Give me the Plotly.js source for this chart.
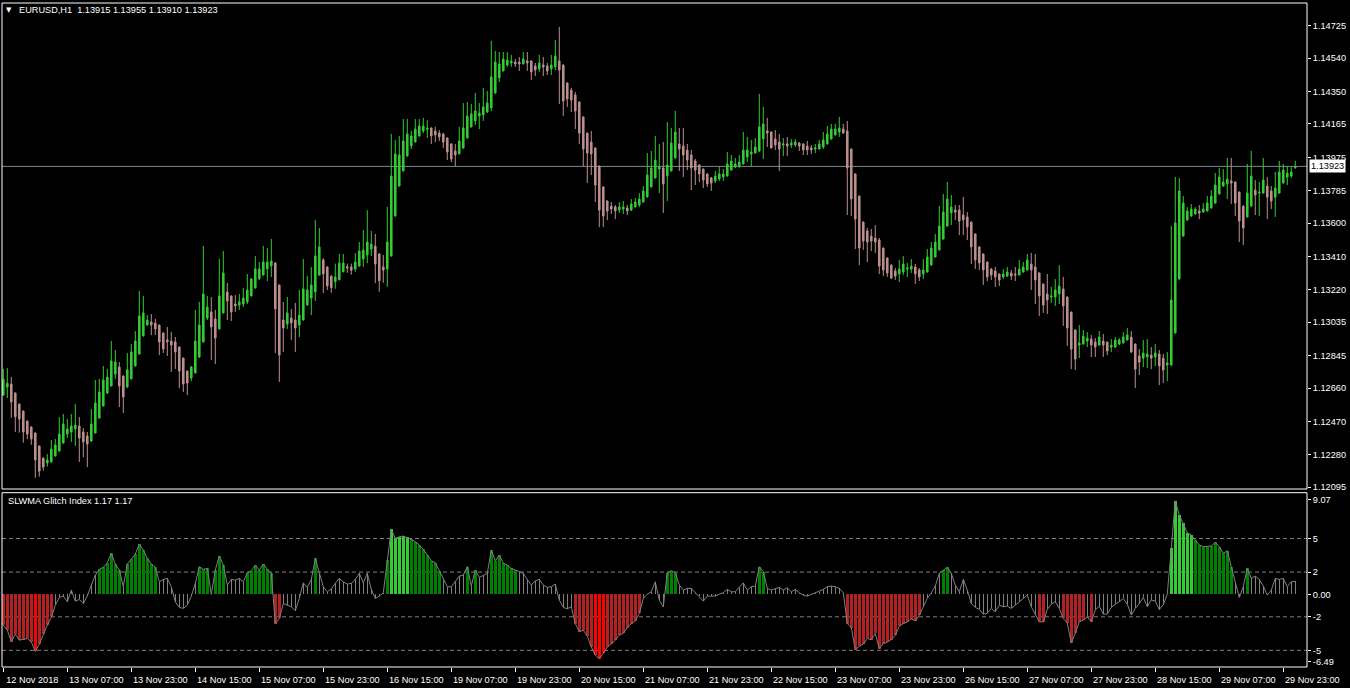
<!DOCTYPE html>
<html>
<head>
<meta charset="utf-8">
<script src="https://cdn.plot.ly/plotly-3.0.1.min.js"></script>
<style>
  html, body { margin: 0; padding: 0; background: #000; }
  #chart { width: 1350px; height: 688px; }
</style>
</head>
<body>
<div id="chart"></div>
<script>
// ---------------- DATA (EURUSD H1, 12 Nov 2018 15:00 -> 30 Nov 2018 02:00) ----------------
const symbolTitle = "EURUSD,H1\u00a0\u00a01.13915 1.13955 1.13910 1.13923";
const indicatorTitle = "SLWMA Glitch Index 1.17 1.17";
const lastPrice = 1.13923;

const openP = [
1.12620,1.12666,1.12683,1.12632,1.12569,1.12529,1.12472,1.12438,1.12404,1.12330,
1.12261,1.12233,1.12239,1.12273,1.12301,1.12347,1.12398,1.12410,1.12427,1.12444,
1.12410,1.12387,1.12358,1.12404,1.12489,1.12558,1.12632,1.12672,1.12740,1.12780,
1.12729,1.12666,1.12712,1.12786,1.12854,1.12957,1.13019,1.13037,1.13031,1.13019,
1.12974,1.12934,1.12928,1.12923,1.12894,1.12831,1.12757,1.12717,1.12746,1.12837,
1.12923,1.13059,1.13094,1.13054,1.12997,1.13088,1.13208,1.13185,1.13139,1.13133,
1.13139,1.13151,1.13185,1.13230,1.13282,1.13304,1.13339,1.13356,1.13373,1.13247,
1.13048,1.13025,1.13059,1.13048,1.13019,1.13048,1.13133,1.13173,1.13208,1.13304,
1.13390,1.13350,1.13298,1.13266,1.13277,1.13323,1.13351,1.13350,1.13338,1.13355,
1.13395,1.13418,1.13452,1.13469,1.13424,1.13350,1.13338,1.13412,1.13640,1.13811,
1.13897,1.13982,1.14039,1.14062,1.14096,1.14125,1.14134,1.14142,1.14125,1.14113,
1.14108,1.14085,1.14051,1.14011,1.13994,1.14028,1.14085,1.14148,1.14182,1.14210,
1.14216,1.14233,1.14256,1.14341,1.14427,1.14467,1.14501,1.14512,1.14518,1.14518,
1.14507,1.14524,1.14524,1.14495,1.14478,1.14501,1.14495,1.14478,1.14490,1.14524,
1.14501,1.14398,1.14358,1.14330,1.14290,1.14205,1.14113,1.14062,1.14028,1.13925,
1.13806,1.13726,1.13697,1.13692,1.13674,1.13680,1.13686,1.13674,1.13692,1.13703,
1.13720,1.13749,1.13806,1.13857,1.13908,1.13914,1.13868,1.13897,1.13971,1.14051,
1.14039,1.14016,1.13988,1.13954,1.13931,1.13908,1.13880,1.13857,1.13840,1.13851,
1.13863,1.13868,1.13902,1.13920,1.13925,1.13937,1.13977,1.13994,1.13999,1.14011,
1.14079,1.14125,1.14119,1.14079,1.14062,1.14045,1.14051,1.14045,1.14045,1.14056,
1.14051,1.14039,1.14028,1.14022,1.14022,1.14034,1.14051,1.14079,1.14102,1.14119,
1.14136,1.14125,1.14022,1.13880,1.13754,1.13606,1.13555,1.13526,1.13515,1.13504,
1.13458,1.13401,1.13361,1.13327,1.13310,1.13321,1.13338,1.13338,1.13350,1.13333,
1.13310,1.13321,1.13361,1.13407,1.13447,1.13509,1.13583,1.13658,1.13675,1.13675,
1.13646,1.13635,1.13606,1.13538,1.13464,1.13424,1.13378,1.13338,1.13327,1.13310,
1.13293,1.13298,1.13316,1.13310,1.13304,1.13321,1.13333,1.13367,1.13350,1.13316,
1.13253,1.13196,1.13179,1.13179,1.13196,1.13224,1.13179,1.13093,1.12991,1.12905,
1.12911,1.12928,1.12939,1.12922,1.12905,1.12928,1.12922,1.12894,1.12894,1.12911,
1.12917,1.12934,1.12951,1.12911,1.12843,1.12830,1.12837,1.12848,1.12837,1.12854,
1.12830,1.12791,1.12791,1.12974,1.13281,1.13526,1.13617,1.13640,1.13652,1.13669,
1.13663,1.13669,1.13686,1.13714,1.13766,1.13811,1.13823,1.13840,1.13834,1.13777,
1.13697,1.13635,1.13697,1.13788,1.13771,1.13771,1.13811,1.13783,1.13748,1.13771,
1.13828,1.13862,1.13868,1.13915
];
const highP = [
1.12769,1.12774,1.12723,1.12635,1.12572,1.12532,1.12476,1.12442,1.12408,1.12333,
1.12264,1.12284,1.12364,1.12370,1.12495,1.12512,1.12484,1.12512,1.12569,1.12495,
1.12432,1.12410,1.12541,1.12706,1.12712,1.12786,1.12769,1.12928,1.12877,1.12808,
1.12732,1.12860,1.12911,1.12985,1.13213,1.13185,1.13076,1.13082,1.13054,1.13022,
1.12977,1.13008,1.12980,1.12951,1.12897,1.12834,1.12760,1.12786,1.13105,1.13151,
1.13470,1.13185,1.13179,1.13105,1.13396,1.13441,1.13259,1.13188,1.13190,1.13196,
1.13230,1.13310,1.13285,1.13413,1.13378,1.13470,1.13458,1.13510,1.13376,1.13250,
1.13151,1.13179,1.13111,1.13145,1.13219,1.13396,1.13299,1.13350,1.13618,1.13572,
1.13401,1.13353,1.13301,1.13369,1.13424,1.13424,1.13369,1.13369,1.13429,1.13492,
1.13560,1.13674,1.13555,1.13538,1.13427,1.13418,1.13692,1.14108,1.14073,1.14096,
1.14193,1.14193,1.14125,1.14193,1.14193,1.14199,1.14187,1.14145,1.14148,1.14130,
1.14114,1.14088,1.14054,1.14051,1.14148,1.14284,1.14290,1.14279,1.14341,1.14284,
1.14370,1.14353,1.14638,1.14581,1.14575,1.14575,1.14575,1.14558,1.14535,1.14546,
1.14575,1.14575,1.14527,1.14512,1.14558,1.14546,1.14512,1.14558,1.14643,1.14718,
1.14504,1.14401,1.14370,1.14347,1.14293,1.14208,1.14116,1.14125,1.14031,1.13928,
1.13809,1.13729,1.13720,1.13703,1.13720,1.13726,1.13703,1.13737,1.13743,1.13771,
1.13811,1.13999,1.14011,1.14096,1.14051,1.14062,1.14176,1.14142,1.14239,1.14142,
1.14142,1.14051,1.14016,1.13965,1.13934,1.13911,1.13883,1.13863,1.13897,1.13920,
1.13908,1.14005,1.13988,1.13971,1.13988,1.14119,1.14091,1.14073,1.14085,1.14336,
1.14262,1.14199,1.14122,1.14130,1.14108,1.14085,1.14091,1.14079,1.14079,1.14062,
1.14056,1.14068,1.14045,1.14051,1.14074,1.14119,1.14153,1.14165,1.14165,1.14205,
1.14165,1.14182,1.14025,1.13883,1.13757,1.13609,1.13572,1.13566,1.13589,1.13515,
1.13461,1.13404,1.13364,1.13344,1.13390,1.13412,1.13373,1.13395,1.13367,1.13344,
1.13395,1.13452,1.13492,1.13538,1.13697,1.13766,1.13834,1.13760,1.13703,1.13703,
1.13749,1.13663,1.13609,1.13541,1.13467,1.13427,1.13381,1.13344,1.13350,1.13313,
1.13338,1.13350,1.13333,1.13350,1.13390,1.13378,1.13424,1.13430,1.13424,1.13319,
1.13256,1.13310,1.13236,1.13281,1.13361,1.13293,1.13182,1.13096,1.12994,1.13019,
1.12991,1.12979,1.12962,1.12945,1.12985,1.12968,1.12925,1.12939,1.12951,1.12945,
1.12979,1.13002,1.12985,1.12914,1.12882,1.12934,1.12939,1.12894,1.12911,1.12877,
1.12854,1.12865,1.13584,1.13863,1.13857,1.13754,1.13691,1.13709,1.13691,1.13703,
1.13714,1.13754,1.13788,1.13885,1.13914,1.13908,1.13971,1.13971,1.13837,1.13780,
1.13700,1.13937,1.14011,1.13845,1.13834,1.13971,1.13862,1.13811,1.13891,1.13954,
1.13937,1.13925,1.13919,1.13955
];
const lowP = [
1.12615,1.12603,1.12491,1.12410,1.12406,1.12349,1.12370,1.12337,1.12149,1.12155,
1.12189,1.12212,1.12236,1.12270,1.12298,1.12344,1.12375,1.12353,1.12330,1.12239,
1.12267,1.12210,1.12353,1.12401,1.12486,1.12555,1.12626,1.12669,1.12712,1.12552,
1.12518,1.12660,1.12709,1.12783,1.12851,1.12954,1.13016,1.12962,1.12962,1.12848,
1.12860,1.12843,1.12752,1.12769,1.12660,1.12638,1.12620,1.12700,1.12743,1.12831,
1.12920,1.13048,1.12820,1.12797,1.12994,1.13085,1.13048,1.13042,1.13094,1.13105,
1.13122,1.13139,1.13182,1.13227,1.13276,1.13301,1.13270,1.13293,1.12860,1.12695,
1.12866,1.12997,1.12934,1.12866,1.12951,1.13045,1.13130,1.13076,1.13156,1.13301,
1.13202,1.13219,1.13203,1.13226,1.13274,1.13320,1.13317,1.13306,1.13323,1.13352,
1.13351,1.13372,1.13412,1.13258,1.13209,1.13260,1.13237,1.13409,1.13637,1.13808,
1.13894,1.13979,1.14022,1.14059,1.14093,1.14113,1.14085,1.14051,1.14062,1.14068,
1.14028,1.13959,1.13948,1.13925,1.13991,1.14022,1.14082,1.14145,1.14159,1.14136,
1.14182,1.14227,1.14239,1.14338,1.14404,1.14464,1.14490,1.14490,1.14490,1.14467,
1.14504,1.14467,1.14415,1.14438,1.14461,1.14438,1.14444,1.14444,1.14472,1.14279,
1.14210,1.14262,1.14233,1.14136,1.14051,1.13925,1.13828,1.13874,1.13720,1.13578,
1.13578,1.13617,1.13652,1.13623,1.13657,1.13652,1.13646,1.13669,1.13689,1.13692,
1.13717,1.13746,1.13803,1.13854,1.13771,1.13657,1.13726,1.13894,1.13968,1.13897,
1.13863,1.13902,1.13788,1.13817,1.13834,1.13800,1.13806,1.13783,1.13828,1.13840,
1.13840,1.13865,1.13899,1.13914,1.13914,1.13934,1.13948,1.13925,1.13996,1.14005,
1.13965,1.14034,1.14025,1.14016,1.13897,1.13982,1.13982,1.14028,1.14034,1.14011,
1.13988,1.13988,1.13994,1.13999,1.14019,1.14022,1.14048,1.14076,1.14099,1.14091,
1.14110,1.13646,1.13640,1.13452,1.13361,1.13447,1.13378,1.13441,1.13430,1.13310,
1.13298,1.13293,1.13281,1.13276,1.13264,1.13304,1.13293,1.13316,1.13253,1.13270,
1.13281,1.13318,1.13358,1.13404,1.13444,1.13506,1.13580,1.13589,1.13618,1.13532,
1.13532,1.13504,1.13367,1.13338,1.13333,1.13247,1.13270,1.13276,1.13236,1.13241,
1.13281,1.13293,1.13276,1.13270,1.13301,1.13318,1.13330,1.13219,1.13139,1.13071,
1.13088,1.13082,1.13145,1.13128,1.13139,1.13014,1.12900,1.12768,1.12763,1.12831,
1.12908,1.12894,1.12837,1.12837,1.12900,1.12837,1.12848,1.12865,1.12888,1.12905,
1.12914,1.12931,1.12862,1.12660,1.12734,1.12780,1.12774,1.12768,1.12786,1.12677,
1.12689,1.12700,1.12788,1.12971,1.13278,1.13523,1.13614,1.13637,1.13649,1.13623,
1.13660,1.13666,1.13683,1.13711,1.13763,1.13808,1.13737,1.13709,1.13640,1.13492,
1.13475,1.13632,1.13694,1.13646,1.13640,1.13768,1.13623,1.13680,1.13635,1.13768,
1.13825,1.13817,1.13857,1.13910
];
const closeP = [
1.12710,1.12687,1.12581,1.12497,1.12484,1.12410,1.12398,1.12370,1.12250,1.12187,
1.12210,1.12250,1.12313,1.12335,1.12398,1.12455,1.12427,1.12444,1.12449,1.12375,
1.12353,1.12341,1.12455,1.12575,1.12638,1.12706,1.12723,1.12814,1.12808,1.12672,
1.12609,1.12763,1.12866,1.12928,1.13071,1.13088,1.13048,1.13019,1.12997,1.12923,
1.12883,1.12923,1.12905,1.12866,1.12757,1.12683,1.12689,1.12780,1.12928,1.13019,
1.13196,1.13122,1.13008,1.12945,1.13185,1.13316,1.13156,1.13094,1.13128,1.13151,
1.13173,1.13219,1.13282,1.13339,1.13339,1.13378,1.13378,1.13384,1.13111,1.12848,
1.13002,1.13088,1.13031,1.13002,1.13076,1.13225,1.13219,1.13247,1.13413,1.13464,
1.13310,1.13242,1.13232,1.13293,1.13372,1.13372,1.13344,1.13332,1.13378,1.13441,
1.13446,1.13492,1.13481,1.13367,1.13272,1.13332,1.13492,1.13868,1.13994,1.13988,
1.14068,1.14108,1.14096,1.14136,1.14153,1.14153,1.14142,1.14096,1.14102,1.14091,
1.14062,1.14005,1.13965,1.13988,1.14068,1.14142,1.14210,1.14222,1.14239,1.14227,
1.14262,1.14284,1.14433,1.14518,1.14507,1.14535,1.14529,1.14524,1.14507,1.14507,
1.14535,1.14512,1.14461,1.14472,1.14512,1.14490,1.14467,1.14501,1.14552,1.14472,
1.14296,1.14307,1.14301,1.14239,1.14113,1.14022,1.13999,1.13994,1.13817,1.13674,
1.13640,1.13669,1.13680,1.13669,1.13692,1.13692,1.13669,1.13709,1.13720,1.13737,
1.13783,1.13874,1.13914,1.13959,1.13920,1.13823,1.13931,1.14056,1.14119,1.14022,
1.13988,1.13959,1.13914,1.13902,1.13880,1.13845,1.13823,1.13828,1.13868,1.13880,
1.13880,1.13937,1.13954,1.13937,1.13948,1.14016,1.14016,1.14005,1.14034,1.14148,
1.14165,1.14113,1.14028,1.14045,1.14022,1.14051,1.14039,1.14056,1.14062,1.14039,
1.14017,1.14017,1.14017,1.14028,1.14051,1.14074,1.14108,1.14136,1.14136,1.14142,
1.14113,1.13914,1.13737,1.13623,1.13458,1.13498,1.13492,1.13498,1.13492,1.13355,
1.13333,1.13316,1.13287,1.13298,1.13338,1.13367,1.13344,1.13355,1.13310,1.13293,
1.13333,1.13407,1.13458,1.13492,1.13583,1.13663,1.13737,1.13692,1.13663,1.13612,
1.13618,1.13578,1.13464,1.13390,1.13373,1.13333,1.13293,1.13304,1.13293,1.13276,
1.13310,1.13321,1.13298,1.13304,1.13338,1.13350,1.13390,1.13333,1.13276,1.13185,
1.13133,1.13162,1.13185,1.13219,1.13241,1.13128,1.13002,1.12882,1.12825,1.12917,
1.12956,1.12945,1.12905,1.12894,1.12951,1.12905,1.12871,1.12905,1.12934,1.12934,
1.12951,1.12962,1.12865,1.12768,1.12808,1.12860,1.12854,1.12831,1.12860,1.12786,
1.12763,1.12803,1.13162,1.13601,1.13783,1.13714,1.13669,1.13680,1.13680,1.13657,
1.13680,1.13714,1.13754,1.13817,1.13862,1.13834,1.13851,1.13828,1.13714,1.13612,
1.13572,1.13771,1.13868,1.13760,1.13777,1.13845,1.13748,1.13726,1.13800,1.13891,
1.13902,1.13885,1.13891,1.13923
];

// SLWMA Glitch Index values, one per bar
const glitchValue = [
-2.75,-3.19,-4.24,-3.55,-4.09,-4.03,-3.94,-4.24,-5.10,-4.45,
-3.55,-2.75,-2.06,-0.96,-0.27,-0.15,-0.66,0.39,-0.60,-0.45,
-0.81,-0.15,0.84,1.73,2.24,2.42,2.84,3.67,2.72,2.18,
0.69,2.72,3.13,3.61,4.51,3.97,3.22,2.72,2.42,1.13,
1.34,1.43,0.69,-0.66,-1.16,-1.25,-0.96,-0.15,0.99,2.48,
2.24,2.33,0.00,2.18,3.43,2.63,0.84,1.34,1.28,1.43,
1.13,1.94,2.12,2.60,2.18,2.72,2.24,1.88,-2.60,-2.15,
-0.81,-0.96,-1.10,-1.46,-0.36,1.04,0.63,1.34,3.22,1.94,
0.69,0.24,0.51,0.99,1.43,1.13,0.93,0.99,1.34,1.88,
1.04,1.88,0.45,-0.36,-0.15,0.15,3.07,5.82,5.01,5.16,
5.22,5.10,4.93,4.72,4.42,4.03,3.52,3.01,2.84,2.10,
1.50,0.69,0.69,1.13,1.64,1.73,2.48,0.75,2.18,1.52,
1.73,1.88,3.97,3.01,3.52,2.78,2.63,2.33,2.18,2.03,
1.88,1.34,0.84,1.22,1.34,0.84,0.63,0.69,0.93,-0.51,
-1.16,-1.28,-1.10,-2.60,-3.34,-3.19,-3.73,-4.69,-5.43,-5.73,
-5.28,-4.69,-4.39,-4.09,-3.64,-3.49,-2.96,-2.60,-2.36,-1.70,
-0.36,0.03,0.24,1.13,-0.51,-1.10,1.94,2.12,1.94,0.84,
0.39,0.54,0.54,0.15,-0.15,-0.60,-0.15,-0.15,-0.15,0.03,
0.15,0.45,0.24,0.24,0.69,1.04,0.39,0.69,0.75,2.48,
2.03,0.54,0.39,0.54,0.63,0.39,0.60,0.24,0.45,0.15,
-0.06,-0.15,0.00,0.09,0.24,0.45,0.69,0.75,0.69,0.54,
0.15,-2.60,-2.96,-4.93,-4.63,-4.45,-3.94,-4.03,-3.49,-4.84,
-4.39,-4.27,-4.03,-3.64,-2.84,-2.60,-2.45,-2.18,-2.36,-1.85,
-1.10,-0.36,0.15,0.75,1.88,2.18,2.42,1.88,0.84,0.24,
1.34,0.39,-0.81,-1.16,-1.34,-1.76,-1.70,-1.25,-1.55,-0.96,
-1.10,-1.04,-1.25,-0.96,-0.66,-0.36,-0.06,-1.10,-1.85,-2.45,
-2.45,-1.34,-0.87,-0.66,-1.25,-2.15,-2.54,-4.33,-3.49,-2.45,
-2.30,-2.00,-2.45,-1.40,-1.04,-1.76,-1.76,-1.16,-0.87,-0.66,
-0.36,-0.87,-1.85,-1.25,-0.81,-0.27,-1.10,-0.50,-0.60,-1.35,
-0.90,0.00,4.12,8.36,7.10,6.36,5.52,5.31,4.87,4.42,
4.27,4.27,4.33,4.66,4.27,3.67,3.91,2.48,0.99,-0.27,
0.69,2.33,1.43,1.64,1.34,0.75,-0.06,0.39,1.43,1.34,
1.43,0.69,1.13,1.17
];

// Histogram state per bar: n = neutral, g = up, G = strong up, r = down, R = strong down
const glitchState = [
"rrrrrrrr","R","rrrr","nnnnnnnnnnn","gggggg","n","gggggggg","nnnnnnnnnn","ggg","n",
"ggg","nnnnn","ggggggg","rr","nnnnnnnn","g","nnnnnnnnnnnnnnnnn","g","GGGGG","gggggggg",
"nnnnnn","g","n","g","nnn","ggggggg","nnnnnnnnnnnnnn","rrrrr","RRR","rrrrrrrrr",
"nnnnnn","ggg","nnnnnnnnnnnnnnnnnnnn","gg","nnnnnnnnnnnnnnnnnnnn","rrrrrrrrrrrrrrrrrrr",
"nnnnn","gg","nnnnnnnnnnnnnnnnnnnnnn","rr","nnnn","rrrrrr","n","r","nnnnnnnnnnnnnnnnnnn",
"GGGGGG","gggggggggg","nnn","g","nnnnnnnnnnnn"
].join("").split("");

const glitchLevels = [5, 2, -2, -5];

const timeTickIndex = [0,16,32,48,64,80,96,112,128,144,160,176,192,208,224,240,256,272,288,304,320];
const timeTickText = ["12 Nov 2018","13 Nov 07:00","13 Nov 23:00","14 Nov 15:00","15 Nov 07:00",
  "15 Nov 23:00","16 Nov 15:00","19 Nov 07:00","19 Nov 23:00","20 Nov 15:00","21 Nov 07:00",
  "21 Nov 23:00","22 Nov 15:00","23 Nov 07:00","23 Nov 23:00","26 Nov 15:00","27 Nov 07:00",
  "27 Nov 23:00","28 Nov 15:00","29 Nov 07:00","29 Nov 23:00"];

const priceTicks = [1.14725,1.14540,1.14350,1.14165,1.13975,1.13785,1.13600,1.13410,1.13220,
  1.13035,1.12845,1.12660,1.12470,1.12280,1.12095];
const priceTickText = ["1.14725","1.14540","1.14350","1.14165","1.13975","1.13785","1.13600",
  "1.13410","1.13220","1.13035","1.12845","1.12660","1.12470","1.12280","1.12095"];

const glitchTicks = [8.5, 5, 2, 0, -2, -5, -5.98];
const glitchTickText = ["9.07", "5", "2", "0.00", "-2", "-5", "-6.49"];

// ---------------- CHART ----------------
const barIndex = openP.map((_, i) => i);
const FONT = "Liberation Sans, Arial, sans-serif";
const fontSize = 9.2;

const stateColor = { n: "#808080", g: "#008000", G: "#32CD32", r: "#B22222", R: "#FF0000" };
const stateWidth = { n: 0.25, g: 0.7, G: 0.7, r: 0.7, R: 0.7 };

const candles = {
  type: "candlestick",
  x: barIndex, open: openP, high: highP, low: lowP, close: closeP,
  xaxis: "x", yaxis: "y",
  increasing: { line: { color: "#32CD32", width: 1 }, fillcolor: "#32CD32" },
  decreasing: { line: { color: "#BC8F8F", width: 1 }, fillcolor: "#BC8F8F" },
  whiskerwidth: 0,
  hoverinfo: "skip",
  showlegend: false
};

const hist = {
  type: "bar",
  x: barIndex, y: glitchValue, base: 0,
  width: glitchState.map(s => stateWidth[s]),
  marker: { color: glitchState.map(s => stateColor[s]), line: { width: 0 } },
  xaxis: "x", yaxis: "y2",
  hoverinfo: "skip", showlegend: false
};

const line = {
  type: "scatter", mode: "lines",
  x: barIndex, y: glitchValue,
  line: { color: "#808080", width: 1 },
  xaxis: "x", yaxis: "y2",
  hoverinfo: "skip", showlegend: false
};

const mainBottom = (667 - 489) / 664;
const indTop = (667 - 492.7) / 664;

const shapes = [
  { type: "rect", xref: "paper", yref: "paper", x0: 0, x1: 1, y0: mainBottom, y1: 1,
    line: { color: "#ffffff", width: 1 }, fillcolor: "rgba(0,0,0,0)", layer: "above" },
  { type: "rect", xref: "paper", yref: "paper", x0: 0, x1: 1, y0: 0, y1: indTop,
    line: { color: "#ffffff", width: 1 }, fillcolor: "rgba(0,0,0,0)", layer: "above" },
  { type: "line", xref: "paper", yref: "y", x0: 0, x1: 1, y0: lastPrice, y1: lastPrice,
    line: { color: "#778899", width: 1 }, layer: "below" }
].concat(glitchLevels.map(v => ({
  type: "line", xref: "paper", yref: "y2", x0: 0, x1: 1, y0: v, y1: v,
  line: { color: "#808080", width: 1, dash: "4px,3px" }, layer: "below"
})));

const annotations = [
  { xref: "paper", yref: "paper", x: (9 - 2) / 1305, y: (667 - 10) / 664, text: "\u25BC",
    showarrow: false, xanchor: "center", yanchor: "middle",
    font: { family: "DejaVu Sans", size: 7, color: "#ffffff" } },
  { xref: "paper", yref: "paper", x: (17 - 2) / 1305, y: (667 - 10) / 664, text: symbolTitle,
    showarrow: false, xanchor: "left", yanchor: "middle",
    font: { family: FONT, size: fontSize, color: "#ffffff" } },
  { xref: "paper", yref: "paper", x: (6 - 2) / 1305, y: (667 - 501) / 664, text: indicatorTitle,
    showarrow: false, xanchor: "left", yanchor: "middle",
    font: { family: FONT, size: fontSize, color: "#ffffff" } },
  { xref: "paper", yref: "y", x: 1, y: lastPrice, text: lastPrice.toFixed(5),
    showarrow: false, xanchor: "left", yanchor: "middle", xshift: 2,
    bgcolor: "#ffffff", borderpad: 1,
    font: { family: FONT, size: fontSize, color: "#000000" } }
];

const layout = {
  width: 1350, height: 688,
  margin: { l: 2, r: 43, t: 3, b: 21, pad: 0 },
  paper_bgcolor: "#000000", plot_bgcolor: "#000000",
  showlegend: false,
  boxmode: "overlay", boxgap: 0.45,
  bargap: 0,
  xaxis: {
    domain: [0, 1], anchor: "y2",
    range: [-0.325, 325.93],
    rangeslider: { visible: false },
    showgrid: false, zeroline: false, showline: false,
    tickmode: "array", tickvals: timeTickIndex, ticktext: timeTickText,
    ticks: "outside", ticklen: 4, tickcolor: "#ffffff", tickwidth: 1,
    ticklabelshift: 29,
    tickfont: { family: FONT, size: fontSize, color: "#ffffff" },
    fixedrange: true
  },
  yaxis: {
    domain: [mainBottom, 1], anchor: "x", side: "right",
    range: [1.12085, 1.14854],
    showgrid: false, zeroline: false, showline: false,
    tickmode: "array", tickvals: priceTicks, ticktext: priceTickText,
    ticks: "outside", ticklen: 3, tickcolor: "#ffffff",
    tickfont: { family: FONT, size: fontSize, color: "#ffffff" },
    fixedrange: true
  },
  yaxis2: {
    domain: [0, indTop], anchor: "x", side: "right",
    range: [-6.49, 9.10],
    showgrid: false, zeroline: false, showline: false,
    tickmode: "array", tickvals: glitchTicks, ticktext: glitchTickText,
    ticks: "outside", ticklen: 3, tickcolor: "#ffffff",
    tickfont: { family: FONT, size: fontSize, color: "#ffffff" },
    fixedrange: true
  },
  shapes: shapes,
  annotations: annotations
};

Plotly.newPlot("chart", [hist, line, candles], layout, { displayModeBar: false, staticPlot: true });
</script>
</body>
</html>
